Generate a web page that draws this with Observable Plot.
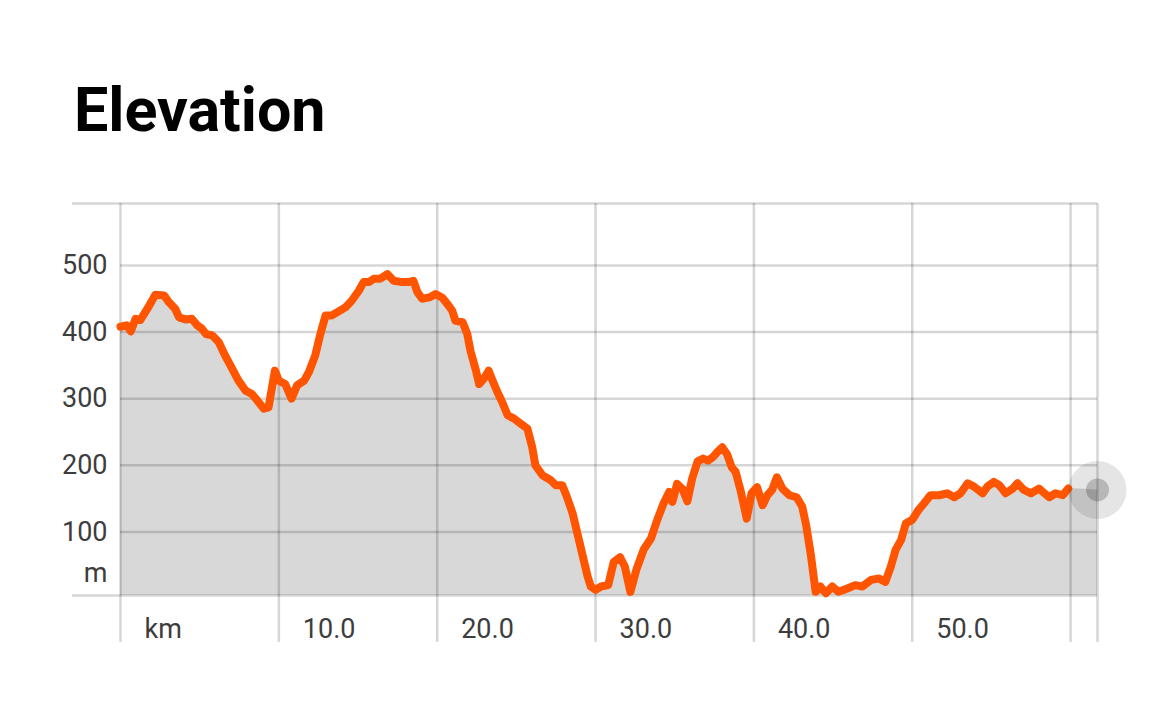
<!DOCTYPE html>
<html>
<head>
<meta charset="utf-8">
<script src="https://cdn.jsdelivr.net/npm/d3@7"></script>
<script src="https://cdn.jsdelivr.net/npm/@observablehq/plot@0.6"></script>
<style>
  html, body { margin: 0; padding: 0; background: #fff; }
  #wrap { position: relative; width: 1170px; height: 720px; overflow: hidden; }
  #title { position: absolute; left: 74px; top: 80px; font-family: Roboto, sans-serif; font-weight: 700; font-size: 61px; line-height: 1; color: #000; margin: 0; }
  #chart { position: absolute; left: 0; top: 150px; }
</style>
</head>
<body>
<div id="wrap">
  <div id="title">Elevation</div>
  <div id="chart"></div>
</div>
<script>
// Distance along the route (km)
const km = [0.0,0.4,0.65,0.95,1.25,1.7,2.2,2.75,3.05,3.45,3.7,4.1,4.5,4.85,5.1,5.4,5.8,6.2,6.6,7.05,7.45,7.9,8.3,8.65,9.05,9.35,9.75,10.0,10.4,10.8,11.15,11.6,11.9,12.3,12.6,12.95,13.35,13.7,14.2,14.6,15.05,15.35,15.7,16.0,16.4,16.85,17.25,17.8,18.2,18.5,18.75,19.05,19.5,19.9,20.3,20.65,20.95,21.15,21.6,21.9,22.1,22.45,22.65,22.95,23.25,23.5,23.8,24.1,24.45,24.85,25.3,25.7,26.0,26.2,26.65,27.15,27.5,27.9,28.2,28.55,28.85,29.15,29.5,29.7,30.0,30.35,30.8,31.15,31.55,31.85,32.2,32.6,33.05,33.5,33.85,34.3,34.65,34.85,35.15,35.5,35.8,36.1,36.45,36.8,37.1,37.4,37.7,38.0,38.3,38.6,38.85,39.15,39.55,39.85,40.2,40.55,40.85,41.15,41.45,41.8,42.25,42.7,43.05,43.3,43.6,43.9,44.2,44.55,44.95,45.35,45.9,46.4,46.85,47.4,47.9,48.3,48.65,48.95,49.3,49.6,50.0,50.4,50.75,51.15,51.7,52.2,52.65,53.05,53.5,53.9,54.45,54.75,55.15,55.5,55.9,56.35,56.65,57.05,57.5,58.0,58.35,58.65,59.05,59.5,59.85];
// Elevation (m)
const elevation = [408,410,401,420,418,435,456,455,445,435,422,419,420,410,406,397,395,385,365,345,327,312,307,297,285,287,342,327,322,300,320,327,340,365,395,425,425,430,437,447,462,475,475,480,480,487,477,475,475,477,460,450,452,457,452,442,432,417,415,397,372,342,322,330,342,327,310,295,275,270,262,255,227,200,185,178,170,170,152,128,98,68,33,18,13,18,20,55,62,48,10,45,74,90,115,143,160,145,172,164,146,180,206,210,207,212,220,227,217,197,190,163,120,158,167,140,155,163,182,165,155,152,138,110,65,10,18,8,18,10,15,20,18,28,30,25,48,73,88,113,118,133,143,155,155,158,152,158,173,168,158,168,175,170,158,165,173,163,158,165,158,152,158,155,165];

// Current-position marker (right edge of the chart)
const markerKm = [61.7];
const markerElev = [163];

// Axis ticks
const xTickValues = [0, 10, 20, 30, 40, 50];
const xTickLabels = ["km", "10.0", "20.0", "30.0", "40.0", "50.0"];
const xGridValues = [0, 10, 20, 30, 40, 50, 60, 61.7];
const yTickValues = [100, 200, 300, 400, 500];
const yTickLabels = ["100", "200", "300", "400", "500"];
const yUnit = ["m"];

const xDomain = [0, 61.7];
const yDomain = [4.5, 593];

const profile = km.map((k, i) => ({km: k, elev: elevation[i]}));
const areaData = profile.concat(markerKm.map((k, i) => ({km: k, elev: markerElev[i]})));
const marker = markerKm.map((k, i) => ({km: k, elev: markerElev[i]}));
const xTicks = xTickValues.map((v, i) => ({v, label: xTickLabels[i]}));
const yTicks = yTickValues.map((v, i) => ({v, label: yTickLabels[i]}));

const gridStyle = {stroke: "#000", strokeOpacity: 0.16, strokeWidth: 2.5};
const textColor = "#3d3d3d";

const chart = Plot.plot({
  width: 1170,
  height: 570,
  marginLeft: 120,
  marginRight: 73,
  marginTop: 53,
  marginBottom: 125,
  style: {fontFamily: "Roboto, sans-serif", background: "transparent", overflow: "visible"},
  x: {domain: xDomain, axis: null},
  y: {domain: yDomain, axis: null},
  marks: [
    Plot.areaY(areaData, {x: "km", y2: "elev", y1: yDomain[0], fill: "#d8d8d8", curve: "linear"}),
    Plot.ruleY(yTicks, {y: "v", ...gridStyle}),
    Plot.ruleY(yDomain, {y: d => d, insetLeft: -48, ...gridStyle}),
    Plot.ruleX(xGridValues, {x: d => d, insetBottom: -47, ...gridStyle}),
    Plot.line(profile, {x: "km", y: "elev", stroke: "#ff5500", strokeWidth: 8, strokeLinejoin: "round", strokeLinecap: "round", curve: "linear"}),
    Plot.dot(marker, {x: "km", y: "elev", r: 29, fill: "#000", fillOpacity: 0.1, stroke: null}),
    Plot.dot(marker, {x: "km", y: "elev", r: 11.5, fill: "#000", fillOpacity: 0.2, stroke: null}),
    Plot.text(xTicks, {x: "v", text: "label", frameAnchor: "bottom", dy: 34, dx: 24, textAnchor: "start", lineAnchor: "middle", fontSize: 27, fill: textColor}),
    Plot.text(yTicks, {y: "v", text: "label", frameAnchor: "left", dx: -13, textAnchor: "end", lineAnchor: "middle", fontSize: 27, fill: textColor}),
    Plot.text(yUnit, {text: d => d, frameAnchor: "bottom-left", dx: -13, dy: -22, textAnchor: "end", lineAnchor: "middle", fontSize: 27, fill: textColor})
  ]
});
document.getElementById("chart").appendChild(chart);
</script>
</body>
</html>
